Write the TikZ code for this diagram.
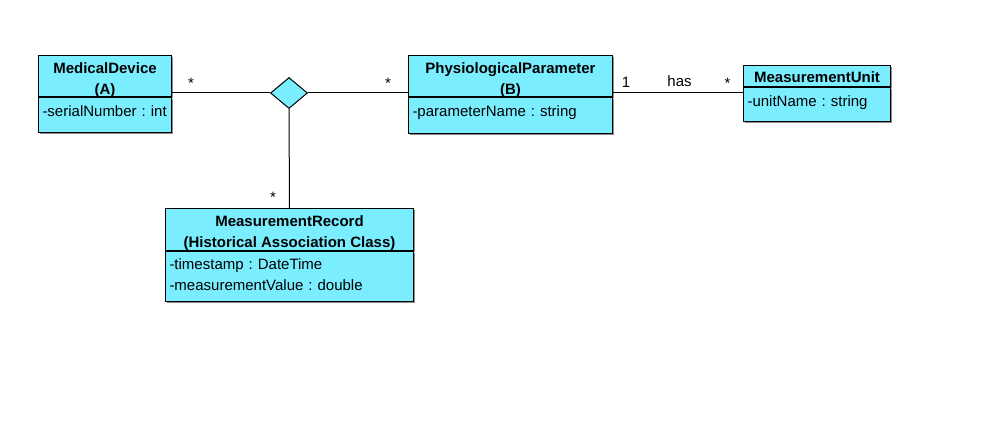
\documentclass[tikz,border=0pt]{standalone}
\usepackage{fontspec}
\setmainfont{Liberation Sans}
\usetikzlibrary{shapes.geometric,shadows}
\definecolor{umlcyan}{RGB}{122,238,255}
\newcommand{\umlsize}{\fontsize{15}{21}\selectfont\frenchspacing}

\begin{document}
\begin{tikzpicture}[x=1pt,y=-1pt,font=\umlsize]
\tikzstyle{head}=[rectangle, draw=black, fill=umlcyan, line width=1pt, font=\umlsize\bfseries, align=center, anchor=north west, inner xsep=0pt, inner ysep=1pt, drop shadow={shadow xshift=1.5pt, shadow yshift=-1.5pt, fill=black!45, opacity=1}]
\tikzstyle{attr}=[rectangle, draw=black, fill=umlcyan, line width=1pt, align=left, anchor=north west, inner xsep=4pt, inner ysep=4pt, text height=15pt, drop shadow={shadow xshift=1.5pt, shadow yshift=-1.5pt, fill=black!45, opacity=1}]
\tikzstyle{assoc}=[diamond, draw=black, fill=umlcyan, line width=1pt, minimum width=37pt, minimum height=31pt, inner sep=0pt]
\tikzstyle{mult}=[anchor=base, inner sep=0pt]
\tikzstyle{connect}=[line width=1pt]
\useasboundingbox (0,0) rectangle (994,430);

	\node[head, minimum width=133pt, text height=38.5pt, text depth=1pt] (dev) at (38,55) {MedicalDevice\\(A)};
	\node[attr, text width=125pt, text depth=12pt] (dev_a) at (dev.south west) {-serialNumber : int};
	\node[head, minimum width=204pt, text height=38.5pt, text depth=1pt] (par) at (408,55) {PhysiologicalParameter\\(B)};
	\node[attr, text width=196pt, text depth=13pt] (par_a) at (par.south west) {-parameterName : string};
	\node[head, minimum width=147pt, text height=16pt, text depth=3pt] (unit) at (743,65) {MeasurementUnit};
	\node[attr, text width=139pt, text depth=11pt] (unit_a) at (unit.south west) {-unitName : string};
	\node[head, minimum width=248pt, text height=38.2pt, text depth=2.3pt] (rec) at (165,208) {MeasurementRecord\\(Historical Association Class)};
	\node[attr, text width=240pt, text height=14pt, text depth=28pt] (rec_a) at (rec.south west) {-timestamp : DateTime\\-measurementValue : double};

	\node[assoc] (dia) at (289,93) {};

	\node[mult] (m_dev) at (191,89) {*};
	\node[mult] (m_par) at (388,89) {*};
	\node[mult] (m_one) at (626,88) {1};
	\node[mult] (has) at (679.5,87) {has};
	\node[mult] (m_unit) at (727.5,89) {*};
	\node[mult] (m_rec) at (273,203) {*};

	\path[connect]
		(dia.west -| dev.east) edge [] (dia.west)
		(dia.east) edge [] (dia.east -| par.west)
		(dia.east -| par.east) edge [] (dia.east -| unit.west)
		(dia.south) edge [] (rec.north);

\end{tikzpicture}
\end{document}
